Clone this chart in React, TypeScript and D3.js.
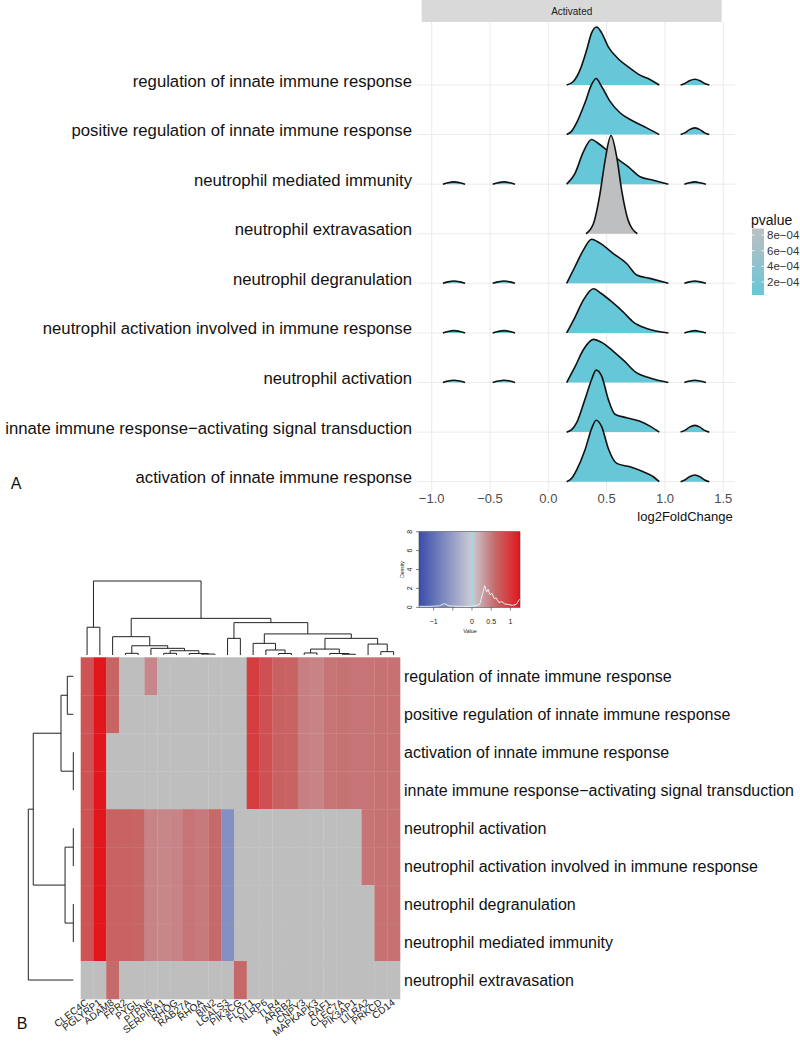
import React from "react";
import * as d3 from "d3";

const W = 800;
const H = 1041;
const FONT = "'Liberation Sans', Arial, Helvetica, sans-serif";

// ---------- panel A : ridgeline data ----------
const ridgeTerms = [
  "regulation of innate immune response",
  "positive regulation of innate immune response",
  "neutrophil mediated immunity",
  "neutrophil extravasation",
  "neutrophil degranulation",
  "neutrophil activation involved in immune response",
  "neutrophil activation",
  "innate immune response\u2212activating signal transduction",
  "activation of innate immune response",
];
const ridgePvalues = [0.45e-4, 0.5e-4, 0.34e-4, 8.83e-4, 0.36e-4, 0.36e-4, 0.36e-4, 0.55e-4, 0.55e-4];
const ridgeTicks = [-1, -0.5, 0, 0.5, 1, 1.5];
const pvalueTicks = [2e-4, 4e-4, 6e-4, 8e-4];

// density humps per term: [log2FoldChange, scaled density]
const ridgeDensity: [number, number][][][] = [
  [
    [[0.157, 0], [0.214, 0.07], [0.271, 0.3], [0.329, 0.71], [0.371, 1.05], [0.414, 1.17], [0.457, 1.05], [0.514, 0.77], [0.586, 0.56], [0.7, 0.34], [0.786, 0.2], [0.871, 0.11], [0.951, 0]],
    [[1.134, 0], [1.17, 0.03], [1.21, 0.085], [1.257, 0.115], [1.3, 0.085], [1.34, 0.03], [1.38, 0]],
  ],
  [
    [[0.157, 0], [0.2, 0.07], [0.243, 0.24], [0.314, 0.64], [0.371, 1.01], [0.409, 1.13], [0.457, 0.97], [0.529, 0.67], [0.614, 0.44], [0.729, 0.27], [0.843, 0.135], [0.951, 0]],
    [[1.134, 0], [1.17, 0.035], [1.21, 0.1], [1.257, 0.135], [1.3, 0.1], [1.34, 0.035], [1.38, 0]],
  ],
  [
    [[-0.904, 0], [-0.86, 0.03], [-0.809, 0.047], [-0.76, 0.03], [-0.714, 0]],
    [[-0.477, 0], [-0.43, 0.03], [-0.38, 0.047], [-0.33, 0.03], [-0.286, 0]],
    [[0.157, 0], [0.229, 0.22], [0.3, 0.65], [0.371, 0.9], [0.429, 0.82], [0.5, 0.69], [0.586, 0.52], [0.686, 0.35], [0.786, 0.15], [0.9, 0.08], [1.029, 0]],
    [[1.166, 0], [1.21, 0.03], [1.258, 0.047], [1.3, 0.03], [1.351, 0]],
  ],
  [
    [[0.323, 0], [0.386, 0.2], [0.443, 0.81], [0.486, 1.47], [0.537, 1.98], [0.586, 1.55], [0.629, 0.87], [0.686, 0.26], [0.763, 0]],
  ],
  [
    [[-0.904, 0], [-0.86, 0.03], [-0.809, 0.047], [-0.76, 0.03], [-0.714, 0]],
    [[-0.477, 0], [-0.43, 0.03], [-0.38, 0.047], [-0.33, 0.03], [-0.286, 0]],
    [[0.157, 0], [0.229, 0.34], [0.3, 0.67], [0.371, 0.89], [0.443, 0.81], [0.557, 0.6], [0.671, 0.4], [0.757, 0.17], [0.871, 0.1], [1.029, 0]],
    [[1.166, 0], [1.21, 0.03], [1.258, 0.047], [1.3, 0.03], [1.351, 0]],
  ],
  [
    [[-0.904, 0], [-0.86, 0.03], [-0.809, 0.047], [-0.76, 0.03], [-0.714, 0]],
    [[-0.477, 0], [-0.43, 0.03], [-0.38, 0.047], [-0.33, 0.03], [-0.286, 0]],
    [[0.157, 0], [0.229, 0.32], [0.3, 0.66], [0.386, 0.89], [0.457, 0.79], [0.543, 0.63], [0.643, 0.42], [0.729, 0.22], [0.843, 0.09], [1.029, 0]],
    [[1.166, 0], [1.21, 0.03], [1.258, 0.047], [1.3, 0.03], [1.351, 0]],
  ],
  [
    [[-0.904, 0], [-0.86, 0.03], [-0.809, 0.047], [-0.76, 0.03], [-0.714, 0]],
    [[-0.477, 0], [-0.43, 0.03], [-0.38, 0.047], [-0.33, 0.03], [-0.286, 0]],
    [[0.157, 0], [0.229, 0.32], [0.3, 0.66], [0.386, 0.87], [0.457, 0.81], [0.557, 0.63], [0.657, 0.42], [0.743, 0.22], [0.871, 0.09], [1.029, 0]],
    [[1.166, 0], [1.21, 0.03], [1.258, 0.047], [1.3, 0.03], [1.351, 0]],
  ],
  [
    [[0.157, 0], [0.2, 0.05], [0.243, 0.19], [0.314, 0.66], [0.371, 1.06], [0.409, 1.25], [0.457, 1.13], [0.514, 0.66], [0.571, 0.36], [0.671, 0.29], [0.786, 0.22], [0.871, 0.12], [0.951, 0]],
    [[1.134, 0], [1.17, 0.035], [1.21, 0.1], [1.257, 0.135], [1.3, 0.1], [1.34, 0.035], [1.38, 0]],
  ],
  [
    [[0.157, 0], [0.2, 0.07], [0.243, 0.24], [0.314, 0.64], [0.371, 1.07], [0.409, 1.24], [0.457, 1.11], [0.514, 0.67], [0.586, 0.37], [0.7, 0.3], [0.814, 0.2], [0.9, 0.1], [0.951, 0]],
    [[1.134, 0], [1.17, 0.035], [1.21, 0.1], [1.257, 0.135], [1.3, 0.1], [1.34, 0.035], [1.38, 0]],
  ],
];

// ---------- panel B : heatmap data ----------
const genes = [
  "CLEC4C", "PGLYRP1", "ADAM8", "FPR2", "PYGL", "PTPN6", "SERPINA1", "RHOG", "RAB27A",
  "RHOA", "BIN2", "LGALS3", "PIK3CG", "FLOT1", "NLRP6", "TLR4", "ARRB2", "CNPY3",
  "MAPKAPK3", "RAF1", "CLEC7A", "PIK3AP1", "LILRA2", "PRKCD", "CD14",
];
const heatTerms = [
  "regulation of innate immune response",
  "positive regulation of innate immune response",
  "activation of innate immune response",
  "innate immune response\u2212activating signal transduction",
  "neutrophil activation",
  "neutrophil activation involved in immune response",
  "neutrophil degranulation",
  "neutrophil mediated immunity",
  "neutrophil extravasation",
];
const N = null;
const heatValues: (number | null)[][] = [
  [0.78, 1.25, 0.64, N, N, 0.42, N, N, N, N, N, N, N, 0.95, 0.8, 0.68, 0.66, 0.47, 0.45, 0.54, 0.55, 0.54, 0.54, 0.55, 0.55],
  [0.78, 1.25, 0.64, N, N, N, N, N, N, N, N, N, N, 0.95, 0.8, 0.68, 0.66, 0.47, 0.45, 0.54, 0.55, 0.54, 0.54, 0.55, 0.55],
  [0.78, 1.25, N, N, N, N, N, N, N, N, N, N, N, 0.95, 0.8, 0.68, 0.66, 0.47, 0.45, 0.54, 0.55, 0.54, 0.54, 0.55, 0.55],
  [0.78, 1.25, N, N, N, N, N, N, N, N, N, N, N, 0.95, 0.8, 0.68, 0.66, 0.47, 0.45, 0.54, 0.55, 0.54, 0.54, 0.55, 0.55],
  [0.78, 1.25, 0.66, 0.66, 0.64, 0.44, 0.42, 0.45, 0.54, 0.5, 0.6, -0.66, N, N, N, N, N, N, N, N, N, N, 0.54, 0.55, 0.55],
  [0.78, 1.25, 0.66, 0.66, 0.64, 0.44, 0.42, 0.45, 0.54, 0.5, 0.6, -0.66, N, N, N, N, N, N, N, N, N, N, 0.54, 0.55, 0.55],
  [0.78, 1.25, 0.66, 0.66, 0.64, 0.44, 0.42, 0.45, 0.54, 0.5, 0.6, -0.66, N, N, N, N, N, N, N, N, N, N, N, 0.55, 0.55],
  [0.78, 1.25, 0.66, 0.66, 0.64, 0.44, 0.42, 0.45, 0.54, 0.5, 0.6, -0.66, N, N, N, N, N, N, N, N, N, N, N, 0.55, 0.55],
  [N, N, 0.6, N, N, N, N, N, N, N, N, N, 0.62, N, N, N, N, N, N, N, N, N, N, N, N],
];

// dendrograms: [merge height, left, right]
type Tree = string | [number, Tree, Tree];
const colTree: Tree = [4.0,
  [1.5, "CLEC4C", "PGLYRP1"],
  [1.98,
    [0.99, "ADAM8",
      [0.5, [0.09, "FPR2", "PYGL"],
        [0.36, "PTPN6", [0.23, [0.09, "SERPINA1", "RHOG"], [0.08, "RAB27A", [0.05, "RHOA", "BIN2"]]]]]],
    [1.75, [0.9, "LGALS3", "PIK3CG"],
      [1.14,
        [0.63, "FLOT1", [0.27, "NLRP6", [0.08, "TLR4", "ARRB2"]]],
        [0.9,
          [0.32, [0.11, "CNPY3", "MAPKAPK3"], [0.08, "RAF1", [0.04, "CLEC7A", "PIK3AP1"]]],
          [0.59, "LILRA2", [0.18, "PRKCD", "CD14"]]]]]]];
const rowTree: Tree = [3.0,
  [2.67,
    [0.82, [0.4, heatTerms[0], heatTerms[1]], [0, heatTerms[2], heatTerms[3]]],
    [0.55, [0, heatTerms[4], heatTerms[5]], [0, heatTerms[6], heatTerms[7]]]],
  heatTerms[8]];

// colour key
const heatBreaks = [-1.38, 0, 0.6, 1.25];
const heatColors = ["#3A4DAA", "#CCCCD6", "#C56A6A", "#E2161D"];
const keyTicks = [-1, -0.5, 0, 0.5, 1];
const keyTickLabels = ["\u22121", "", "0", "0.5", "1"];
const keyDensityTicks = [0, 2, 4, 6, 8];
const keyDensity: [number, number][] = [
  [-1.38, 0.1], [-1.1, 0.1], [-0.85, 0.15], [-0.72, 0.4], [-0.6, 0.15], [-0.3, 0.1], [0, 0.1],
  [0.2, 0.3], [0.28, 1.5], [0.33, 2.3], [0.38, 1.6], [0.42, 1.9], [0.47, 1.3], [0.52, 1.5],
  [0.58, 0.9], [0.63, 1.0], [0.7, 0.5], [0.78, 0.6], [0.85, 0.35], [0.95, 0.3], [1.05, 0.2],
  [1.15, 0.3], [1.25, 0.9],
];

interface DNode { name?: string; h: number; children?: DNode[] }
const toNode = (t: Tree): DNode =>
  typeof t === "string" ? { name: t, h: 0 } : { h: t[0], children: [toNode(t[1]), toNode(t[2])] };

function dendroSegments(tree: Tree, leafPos: (name: string) => number) {
  const root = d3.hierarchy(toNode(tree));
  const pos = new Map<any, number>();
  root.eachAfter((n) => {
    pos.set(n, n.children ? (d3.mean(n.children, (c) => pos.get(c)) as number) : leafPos(n.data.name as string));
  });
  const segs: { a0: number; a1: number; h0: number; h1: number }[] = [];
  root.each((n) => {
    if (!n.children) return;
    segs.push({ a0: pos.get(n.children[0])!, a1: pos.get(n.children[1])!, h0: n.data.h, h1: n.data.h });
    n.children.forEach((c) => segs.push({ a0: pos.get(c)!, a1: pos.get(c)!, h0: n.data.h, h1: c.data.h }));
  });
  return segs;
}

export default function App() {
  // ---- panel A scales
  const xR = d3.scaleLinear().domain([-1, 1.5]).range([431.7, 723.3]);
  const yR = d3.scalePoint<string>().domain(ridgeTerms).range([85, 481.7]);
  const hR = d3.scaleLinear().domain([0, 1]).range([0, 49.6]);
  const pExtent = d3.extent(ridgePvalues) as [number, number];
  const pColor = d3.scaleLinear<string>().domain(pExtent).range(["#66C7D8", "#BEBFC0"]);
  const pY = d3.scaleLinear().domain(pExtent).range([295, 228.5]);

  // ---- panel B scales
  const xH = d3.scaleBand<string>().domain(genes).range([80.7, 400]);
  const yH = d3.scaleBand<string>().domain(heatTerms).range([657.3, 999]);
  const heatColor = d3.scaleLinear<string>().domain(heatBreaks).range(heatColors);
  const colH = d3.scaleLinear().domain([0, 4]).range([655, 581]);
  const rowH = d3.scaleLinear().domain([0, 3]).range([73.3, 28.3]);
  const keyX = d3.scaleLinear().domain([-1.38, 1.25]).range([419, 520]);
  const keyY = d3.scaleLinear().domain([0, 8]).range([607.3, 531.7]);

  const colSegs = dendroSegments(colTree, (g) => xH(g)! + xH.bandwidth() / 2);
  const rowSegs = dendroSegments(rowTree, (t) => yH(t)! + yH.bandwidth() / 2);

  const keyLine = d3.line<[number, number]>().x((d) => keyX(d[0])).y((d) => keyY(d[1]));

  return (
    <svg width={W} height={H} style={{ position: "absolute", left: 0, top: 0, background: "#fff" }} fontFamily={FONT}>
      <defs>
        <linearGradient id="pgrad" x1="0" y1="1" x2="0" y2="0">
          <stop offset="0%" stopColor={pColor(pExtent[0])} />
          <stop offset="100%" stopColor={pColor(pExtent[1])} />
        </linearGradient>
        <linearGradient id="kgrad" x1="0" y1="0" x2="1" y2="0">
          {heatBreaks.map((v) => (
            <stop key={v} offset={`${((keyX(v) - 419) / 101) * 100}%`} stopColor={heatColor(v)} />
          ))}
        </linearGradient>
      </defs>

      {/* ===== panel A ===== */}
      <rect x={421.7} y={0} width={300} height={22} fill="#D9D9D9" />
      <text x={571.7} y={11.5} fontSize={10} textAnchor="middle" dominantBaseline="central" fill="#1A1A1A">Activated</text>
      {ridgeTicks.map((t) => (
        <line key={t} x1={xR(t)} x2={xR(t)} y1={22} y2={492} stroke="#EBEBEB" strokeWidth={1} />
      ))}
      {ridgeTerms.map((t) => (
        <line key={t} x1={417} x2={735} y1={yR(t)} y2={yR(t)} stroke="#EBEBEB" strokeWidth={1} />
      ))}
      {ridgeTerms.map((t, i) => {
        const base = yR(t)!;
        const area = d3.area<[number, number]>().x((d) => xR(d[0])).y0(base).y1((d) => base - hR(d[1])).curve(d3.curveMonotoneX);
        const line = d3.line<[number, number]>().x((d) => xR(d[0])).y((d) => base - hR(d[1])).curve(d3.curveMonotoneX);
        return (
          <g key={t}>
            {ridgeDensity[i].map((hump, j) => (
              <g key={j}>
                <path d={area(hump)!} fill={pColor(ridgePvalues[i])} />
                <path d={line(hump)!} fill="none" stroke="#111" strokeWidth={1.6} strokeLinejoin="round" />
              </g>
            ))}
          </g>
        );
      })}
      {ridgeTerms.map((t) => (
        <text key={t} x={412} y={yR(t)! - 4} fontSize={16.7} textAnchor="end" dominantBaseline="central" fill="#111">{t}</text>
      ))}
      {ridgeTicks.map((t) => (
        <text key={t} x={xR(t)} y={503} fontSize={13} textAnchor="middle" fill="#4D4D4D">
          {d3.format(".1f")(t).replace("-", "\u2212")}
        </text>
      ))}
      <text x={685} y={521} fontSize={13} textAnchor="middle" fill="#111">log2FoldChange</text>
      <text x={16} y={489} fontSize={16} textAnchor="middle" fill="#111">A</text>

      {/* pvalue legend */}
      <text x={751} y={220} fontSize={14} dominantBaseline="central" fill="#111">pvalue</text>
      <rect x={752} y={228.5} width={12} height={66.5} fill="url(#pgrad)" />
      {pvalueTicks.map((p) => (
        <g key={p}>
          <line x1={752} x2={754.5} y1={pY(p)} y2={pY(p)} stroke="#fff" strokeWidth={0.8} />
          <line x1={761.5} x2={764} y1={pY(p)} y2={pY(p)} stroke="#fff" strokeWidth={0.8} />
          <text x={767} y={pY(p)} fontSize={11.5} dominantBaseline="central" fill="#333">
            {p.toExponential(0).replace("e-4", "e\u221204")}
          </text>
        </g>
      ))}

      {/* ===== panel B ===== */}
      {/* colour key */}
      <rect x={419} y={531.7} width={101} height={75.6} fill="url(#kgrad)" />
      <line x1={keyX(0)} x2={keyX(0)} y1={531.7} y2={607.3} stroke="#9ADCE4" strokeWidth={1.8} />
      <path d={keyLine(keyDensity)!} fill="none" stroke="#E2F3F4" strokeWidth={1} />
      <rect x={419} y={531.7} width={101} height={75.6} fill="none" stroke="#444" strokeWidth={0.6} />
      {keyDensityTicks.map((t) => (
        <g key={t}>
          <line x1={416} x2={419} y1={keyY(t)} y2={keyY(t)} stroke="#333" strokeWidth={0.6} />
          <text transform={`translate(412,${keyY(t)}) rotate(-90)`} fontSize={7} textAnchor="middle" fill="#222">{t}</text>
        </g>
      ))}
      <text transform="translate(404,569.5) rotate(-90)" fontSize={5} textAnchor="middle" fill="#222">Density</text>
      {keyTicks.map((t, i) => (
        <g key={t}>
          <line x1={keyX(t)} x2={keyX(t)} y1={607.3} y2={610.5} stroke="#333" strokeWidth={0.6} />
          <text x={keyX(t)} y={624} fontSize={7} textAnchor="middle" fill="#222">{keyTickLabels[i]}</text>
        </g>
      ))}
      <text x={470} y={633} fontSize={5.5} textAnchor="middle" fill="#222">Value</text>

      {/* heatmap cells */}
      {heatTerms.map((t, r) =>
        genes.map((g, c) => {
          const v = heatValues[r][c];
          return (
            <rect key={`${r}-${c}`} x={xH(g)} y={yH(t)} width={xH.bandwidth() + 0.3} height={yH.bandwidth() + 0.3}
              fill={v === null ? "#BEBEBE" : heatColor(v)} />
          );
        })
      )}

      {/* dendrograms */}
      {colSegs.map((s, i) => (
        <line key={i} x1={s.a0} x2={s.a1} y1={colH(s.h0)} y2={colH(s.h1)} stroke="#222" strokeWidth={1} />
      ))}
      {rowSegs.map((s, i) => (
        <line key={i} x1={rowH(s.h0)} x2={rowH(s.h1)} y1={s.a0} y2={s.a1} stroke="#222" strokeWidth={1} />
      ))}

      {/* labels */}
      {heatTerms.map((t) => (
        <text key={t} x={404} y={yH(t)! + yH.bandwidth() / 2} fontSize={16} dominantBaseline="central" fill="#111">{t}</text>
      ))}
      {genes.map((g) => (
        <text key={g} transform={`translate(${xH(g)! + xH.bandwidth() / 2 + 2},1004) rotate(-37)`} fontSize={10}
          textAnchor="end" fill="#222">{g}</text>
      ))}
      <text x={22} y={1029} fontSize={16} textAnchor="middle" fill="#111">B</text>
    </svg>
  );
}
